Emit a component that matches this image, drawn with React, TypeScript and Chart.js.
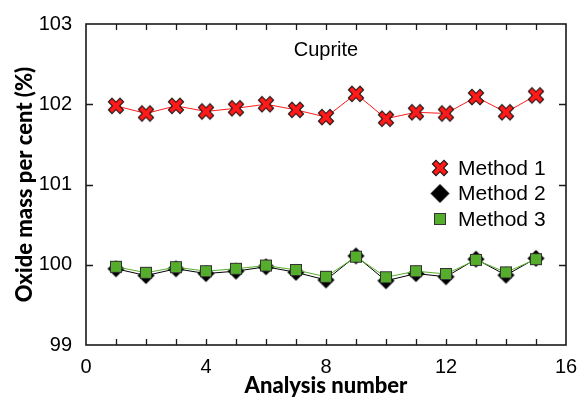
import React, { useEffect, useRef } from 'react';
import { Chart, registerables } from 'chart.js';

Chart.register(...registerables);

const analysisNumbers = [1, 2, 3, 4, 5, 6, 7, 8, 9, 10, 11, 12, 13, 14, 15];
const method1 = [101.98, 101.885, 101.98, 101.91, 101.95, 102.0, 101.93, 101.84, 102.13, 101.82, 101.9, 101.885, 102.09, 101.9, 102.11];
const method2 = [99.95, 99.865, 99.95, 99.89, 99.92, 99.975, 99.905, 99.81, 100.11, 99.8, 99.89, 99.85, 100.07, 99.87, 100.08];
const method3 = [99.975, 99.9, 99.97, 99.92, 99.95, 99.99, 99.935, 99.85, 100.1, 99.845, 99.92, 99.885, 100.06, 99.905, 100.07];
const seriesNames = ['Method 1', 'Method 2', 'Method 3'];
const xLabelEvery = 4;
const chartTitle = 'Cuprite';
const xTitle = 'Analysis number';
const yTitle = 'Oxide mass per cent (%)';

const RED = '#ff1a1a';
const GREEN = '#55ae2b';

function makeCross(): HTMLCanvasElement {
  const s = 20;
  const c = document.createElement('canvas');
  c.width = s; c.height = s;
  const g = c.getContext('2d')!;
  const m = s / 2, a = 6.2;
  g.lineCap = 'butt';
  g.strokeStyle = '#111';
  g.lineWidth = 6.2;
  g.beginPath();
  g.moveTo(m - a, m - a); g.lineTo(m + a, m + a);
  g.moveTo(m + a, m - a); g.lineTo(m - a, m + a);
  g.stroke();
  const b = a - 0.8;
  g.strokeStyle = RED;
  g.lineWidth = 4.2;
  g.beginPath();
  g.moveTo(m - b, m - b); g.lineTo(m + b, m + b);
  g.moveTo(m + b, m - b); g.lineTo(m - b, m + b);
  g.stroke();
  return c;
}

function makeDiamond(r: number): HTMLCanvasElement {
  const s = Math.ceil(2 * r + 2);
  const c = document.createElement('canvas');
  c.width = s; c.height = s;
  const g = c.getContext('2d')!;
  const m = s / 2;
  g.fillStyle = '#000';
  g.beginPath();
  g.moveTo(m, m - r); g.lineTo(m + r, m); g.lineTo(m, m + r); g.lineTo(m - r, m);
  g.closePath();
  g.fill();
  return c;
}

function makeSquare(side: number): HTMLCanvasElement {
  const s = Math.ceil(side + 2);
  const c = document.createElement('canvas');
  c.width = s; c.height = s;
  const g = c.getContext('2d')!;
  const o = (s - side) / 2;
  g.fillStyle = GREEN;
  g.fillRect(o, o, side, side);
  g.strokeStyle = '#333';
  g.lineWidth = 1;
  g.strokeRect(o + 0.5, o + 0.5, side - 1, side - 1);
  return c;
}

export default function App() {
  const ref = useRef<HTMLCanvasElement | null>(null);

  useEffect(() => {
    document.body.style.margin = '0';
    const canvas = ref.current;
    if (!canvas) return;

    const crossImg = makeCross();
    const diamondImg = makeDiamond(8.5);
    const squareImg = makeSquare(12);
    const legendImgs = [crossImg, makeDiamond(9.5), squareImg];

    const framePlugin = {
      id: 'frame',
      beforeDatasetsDraw(chart: any) {
        const { ctx, chartArea } = chart;
        const { left, right, top, bottom } = chartArea;
        const x = chart.scales.x;
        const y = chart.scales.y;
        ctx.save();
        ctx.strokeStyle = '#1a1a1a';
        ctx.lineWidth = 1.6;
        ctx.strokeRect(left, top, right - left, bottom - top);
        ctx.lineWidth = 1.3;
        ctx.beginPath();
        x.ticks.forEach((t: any) => {
          if (t.value <= x.min || t.value >= x.max) return;
          const px = Math.round(x.getPixelForValue(t.value)) + 0.5;
          ctx.moveTo(px, bottom); ctx.lineTo(px, bottom - 6);
          ctx.moveTo(px, top); ctx.lineTo(px, top + 6);
        });
        y.ticks.forEach((t: any) => {
          if (t.value <= y.min || t.value >= y.max) return;
          const py = Math.round(y.getPixelForValue(t.value)) + 0.5;
          ctx.moveTo(left, py); ctx.lineTo(left + 7, py);
          ctx.moveTo(right, py); ctx.lineTo(right - 7, py);
        });
        ctx.stroke();
        ctx.restore();
      },
      afterDraw(chart: any) {
        const { ctx, chartArea } = chart;
        ctx.save();
        ctx.fillStyle = '#000';
        ctx.font = '20px "Liberation Sans", Arial, sans-serif';
        ctx.textAlign = 'center';
        ctx.textBaseline = 'middle';
        ctx.fillText(chartTitle, (chartArea.left + chartArea.right) / 2, 50);
        ctx.textAlign = 'left';
        ctx.font = '21px "Liberation Sans", Arial, sans-serif';
        const rows = [168, 193.5, 219];
        seriesNames.forEach((name, i) => {
          const img = legendImgs[i];
          ctx.drawImage(img, 440 - img.width / 2, rows[i] - img.height / 2);
          ctx.fillText(name, 458, rows[i] + 1);
        });
        ctx.restore();
      },
    };

    const chart = new Chart(canvas, {
      type: 'line',
      data: {
        labels: analysisNumbers,
        datasets: [
          {
            label: seriesNames[0],
            data: analysisNumbers.map((n, i) => ({ x: n, y: method1[i] })),
            borderColor: RED,
            borderWidth: 1,
            pointStyle: crossImg as any,
            order: 2,
          },
          {
            label: seriesNames[1],
            data: analysisNumbers.map((n, i) => ({ x: n, y: method2[i] })),
            borderColor: '#000',
            borderWidth: 1,
            pointStyle: diamondImg as any,
            order: 1,
          },
          {
            label: seriesNames[2],
            data: analysisNumbers.map((n, i) => ({ x: n, y: method3[i] })),
            borderColor: GREEN,
            borderWidth: 1,
            pointStyle: squareImg as any,
            order: 0,
          },
        ],
      },
      plugins: [framePlugin],
      options: {
        animation: false,
        responsive: false,
        maintainAspectRatio: false,
        layout: { padding: { top: 24, right: 15, left: 0, bottom: 0 } },
        plugins: { legend: { display: false }, tooltip: { enabled: false } },
        scales: {
          x: {
            type: 'linear',
            min: 0,
            max: 16,
            grid: { display: false },
            border: { display: false },
            afterFit: (s: any) => { s.height = 56; },
            ticks: {
              stepSize: 1,
              autoSkip: false,
              maxRotation: 0,
              padding: 2,
              color: '#000',
              font: { family: '"Liberation Sans", Arial, sans-serif', size: 20 },
              callback: (v: any) => (Number(v) % xLabelEvery === 0 ? String(v) : ''),
            },
            title: {
              display: true,
              text: xTitle,
              color: '#000',
              font: { family: 'Lato, sans-serif', size: 22, weight: 900 },
              padding: { top: 2, bottom: 2 },
            },
          },
          y: {
            type: 'linear',
            min: 99,
            max: 103,
            grid: { display: false },
            border: { display: false },
            afterFit: (s: any) => { s.width = 86; },
            ticks: {
              stepSize: 1,
              padding: 6,
              color: '#000',
              font: { family: '"Liberation Sans", Arial, sans-serif', size: 20 },
            },
            title: {
              display: true,
              text: yTitle,
              color: '#000',
              font: { family: 'Lato, sans-serif', size: 22, weight: 900 },
              padding: { top: 12, bottom: 4 },
            },
          },
        },
      },
    } as any);

    return () => chart.destroy();
  }, []);

  return (
    <div style={{ width: 581, height: 401 }}>
      <canvas ref={ref} width={581} height={401} style={{ display: 'block' }} />
    </div>
  );
}
